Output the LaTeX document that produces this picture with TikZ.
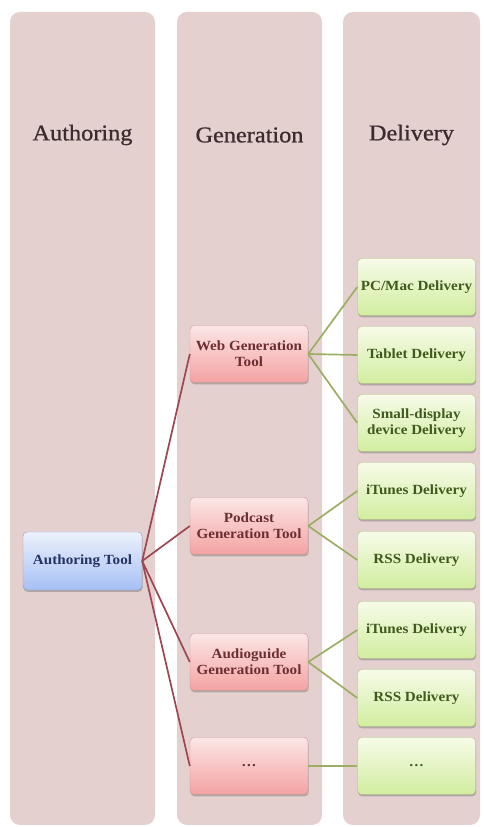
\documentclass[tikz,border=0pt]{standalone}
\usepackage{fontspec}
\setmainfont{Liberation Serif}[FakeStretch=1.08]
\newfontfamily\headfont{Liberation Serif}[FakeStretch=1.08, FakeBold=0.9]
\usetikzlibrary{shadows}
\definecolor{colbg}{RGB}{229,208,208}
\definecolor{headtxt}{RGB}{60,44,48}
\definecolor{bluetop}{RGB}{236,241,252}
\definecolor{bluebot}{RGB}{166,192,244}
\definecolor{blueborder}{RGB}{135,155,200}
\definecolor{bluetxt}{RGB}{36,52,100}
\definecolor{redtop}{RGB}{252,230,230}
\definecolor{redbot}{RGB}{244,162,162}
\definecolor{redborder}{RGB}{210,145,145}
\definecolor{redtxt}{RGB}{108,46,50}
\definecolor{greentop}{RGB}{246,251,232}
\definecolor{greenbot}{RGB}{210,237,160}
\definecolor{greenborder}{RGB}{172,192,125}
\definecolor{greentxt}{RGB}{64,90,30}
\definecolor{redline}{RGB}{158,70,82}
\definecolor{greenline}{RGB}{155,174,100}
\tikzset{
  colbox/.style={fill=colbg, rounded corners=10pt},
  header/.style={font=\headfont\fontsize{22.5}{26}\selectfont, text=headtxt},
  basebox/.style={rounded corners=4pt, minimum width=118pt, minimum height=57pt,
    inner sep=0pt, align=center, font=\fontsize{14}{16}\selectfont\bfseries,
    drop shadow={shadow xshift=0.6pt, shadow yshift=-1.8pt, fill=black!55, opacity=0.45}},
  bluebox/.style={basebox, draw=blueborder, top color=bluetop, bottom color=bluebot, text=bluetxt},
  redbox/.style={basebox, draw=redborder, top color=redtop, bottom color=redbot, text=redtxt},
  greenbox/.style={basebox, draw=greenborder, top color=greentop, bottom color=greenbot, text=greentxt},
  redlink/.style={draw=redline, line width=1.7pt},
  greenlink/.style={draw=greenline, line width=1.7pt},
}
\begin{document}
\begin{tikzpicture}[x=1pt,y=1pt]
\useasboundingbox (0,0) rectangle (483,827);
\fill[white] (0,0) rectangle (483,827);
% columns
\path[colbox] (10,2) rectangle (155,815);
\path[colbox] (177,2) rectangle (322,815);
\path[colbox] (343,2) rectangle (480,815);
% headers
\node[header] (h1) at (82.5,692) {Authoring};
\node[header] (h2) at (249.5,692) {Generation};
\node[header] (h3) at (411.5,692) {Delivery};
% authoring
\node[bluebox, minimum width=119pt, minimum height=58pt] (auth) at (82.5,266) {Authoring Tool};
% generation
\node[redbox] (web) at (249,473) {Web Generation\\Tool};
\node[redbox] (pod) at (249,301) {Podcast\\Generation Tool};
\node[redbox] (aud) at (249,165) {Audioguide\\Generation Tool};
\node[redbox] (gdots) at (249,61) {\ldots};
% delivery
\node[greenbox] (pc) at (416.5,540) {PC/Mac Delivery};
\node[greenbox] (tab) at (416.5,472) {Tablet Delivery};
\node[greenbox] (small) at (416.5,404) {Small-display\\device Delivery};
\node[greenbox] (it1) at (416.5,336) {iTunes Delivery};
\node[greenbox] (rss1) at (416.5,267) {RSS Delivery};
\node[greenbox] (it2) at (416.5,197) {iTunes Delivery};
\node[greenbox] (rss2) at (416.5,129) {RSS Delivery};
\node[greenbox] (ddots) at (416.5,61) {\ldots};
% connectors
\draw[redlink] (auth.east) -- (web.west);
\draw[redlink] (auth.east) -- (pod.west);
\draw[redlink] (auth.east) -- (aud.west);
\draw[redlink] (auth.east) -- (gdots.west);
\draw[greenlink] (web.east) -- (pc.west);
\draw[greenlink] (web.east) -- (tab.west);
\draw[greenlink] (web.east) -- (small.west);
\draw[greenlink] (pod.east) -- (it1.west);
\draw[greenlink] (pod.east) -- (rss1.west);
\draw[greenlink] (aud.east) -- (it2.west);
\draw[greenlink] (aud.east) -- (rss2.west);
\draw[greenlink] (gdots.east) -- (ddots.west);
\end{tikzpicture}
\end{document}
